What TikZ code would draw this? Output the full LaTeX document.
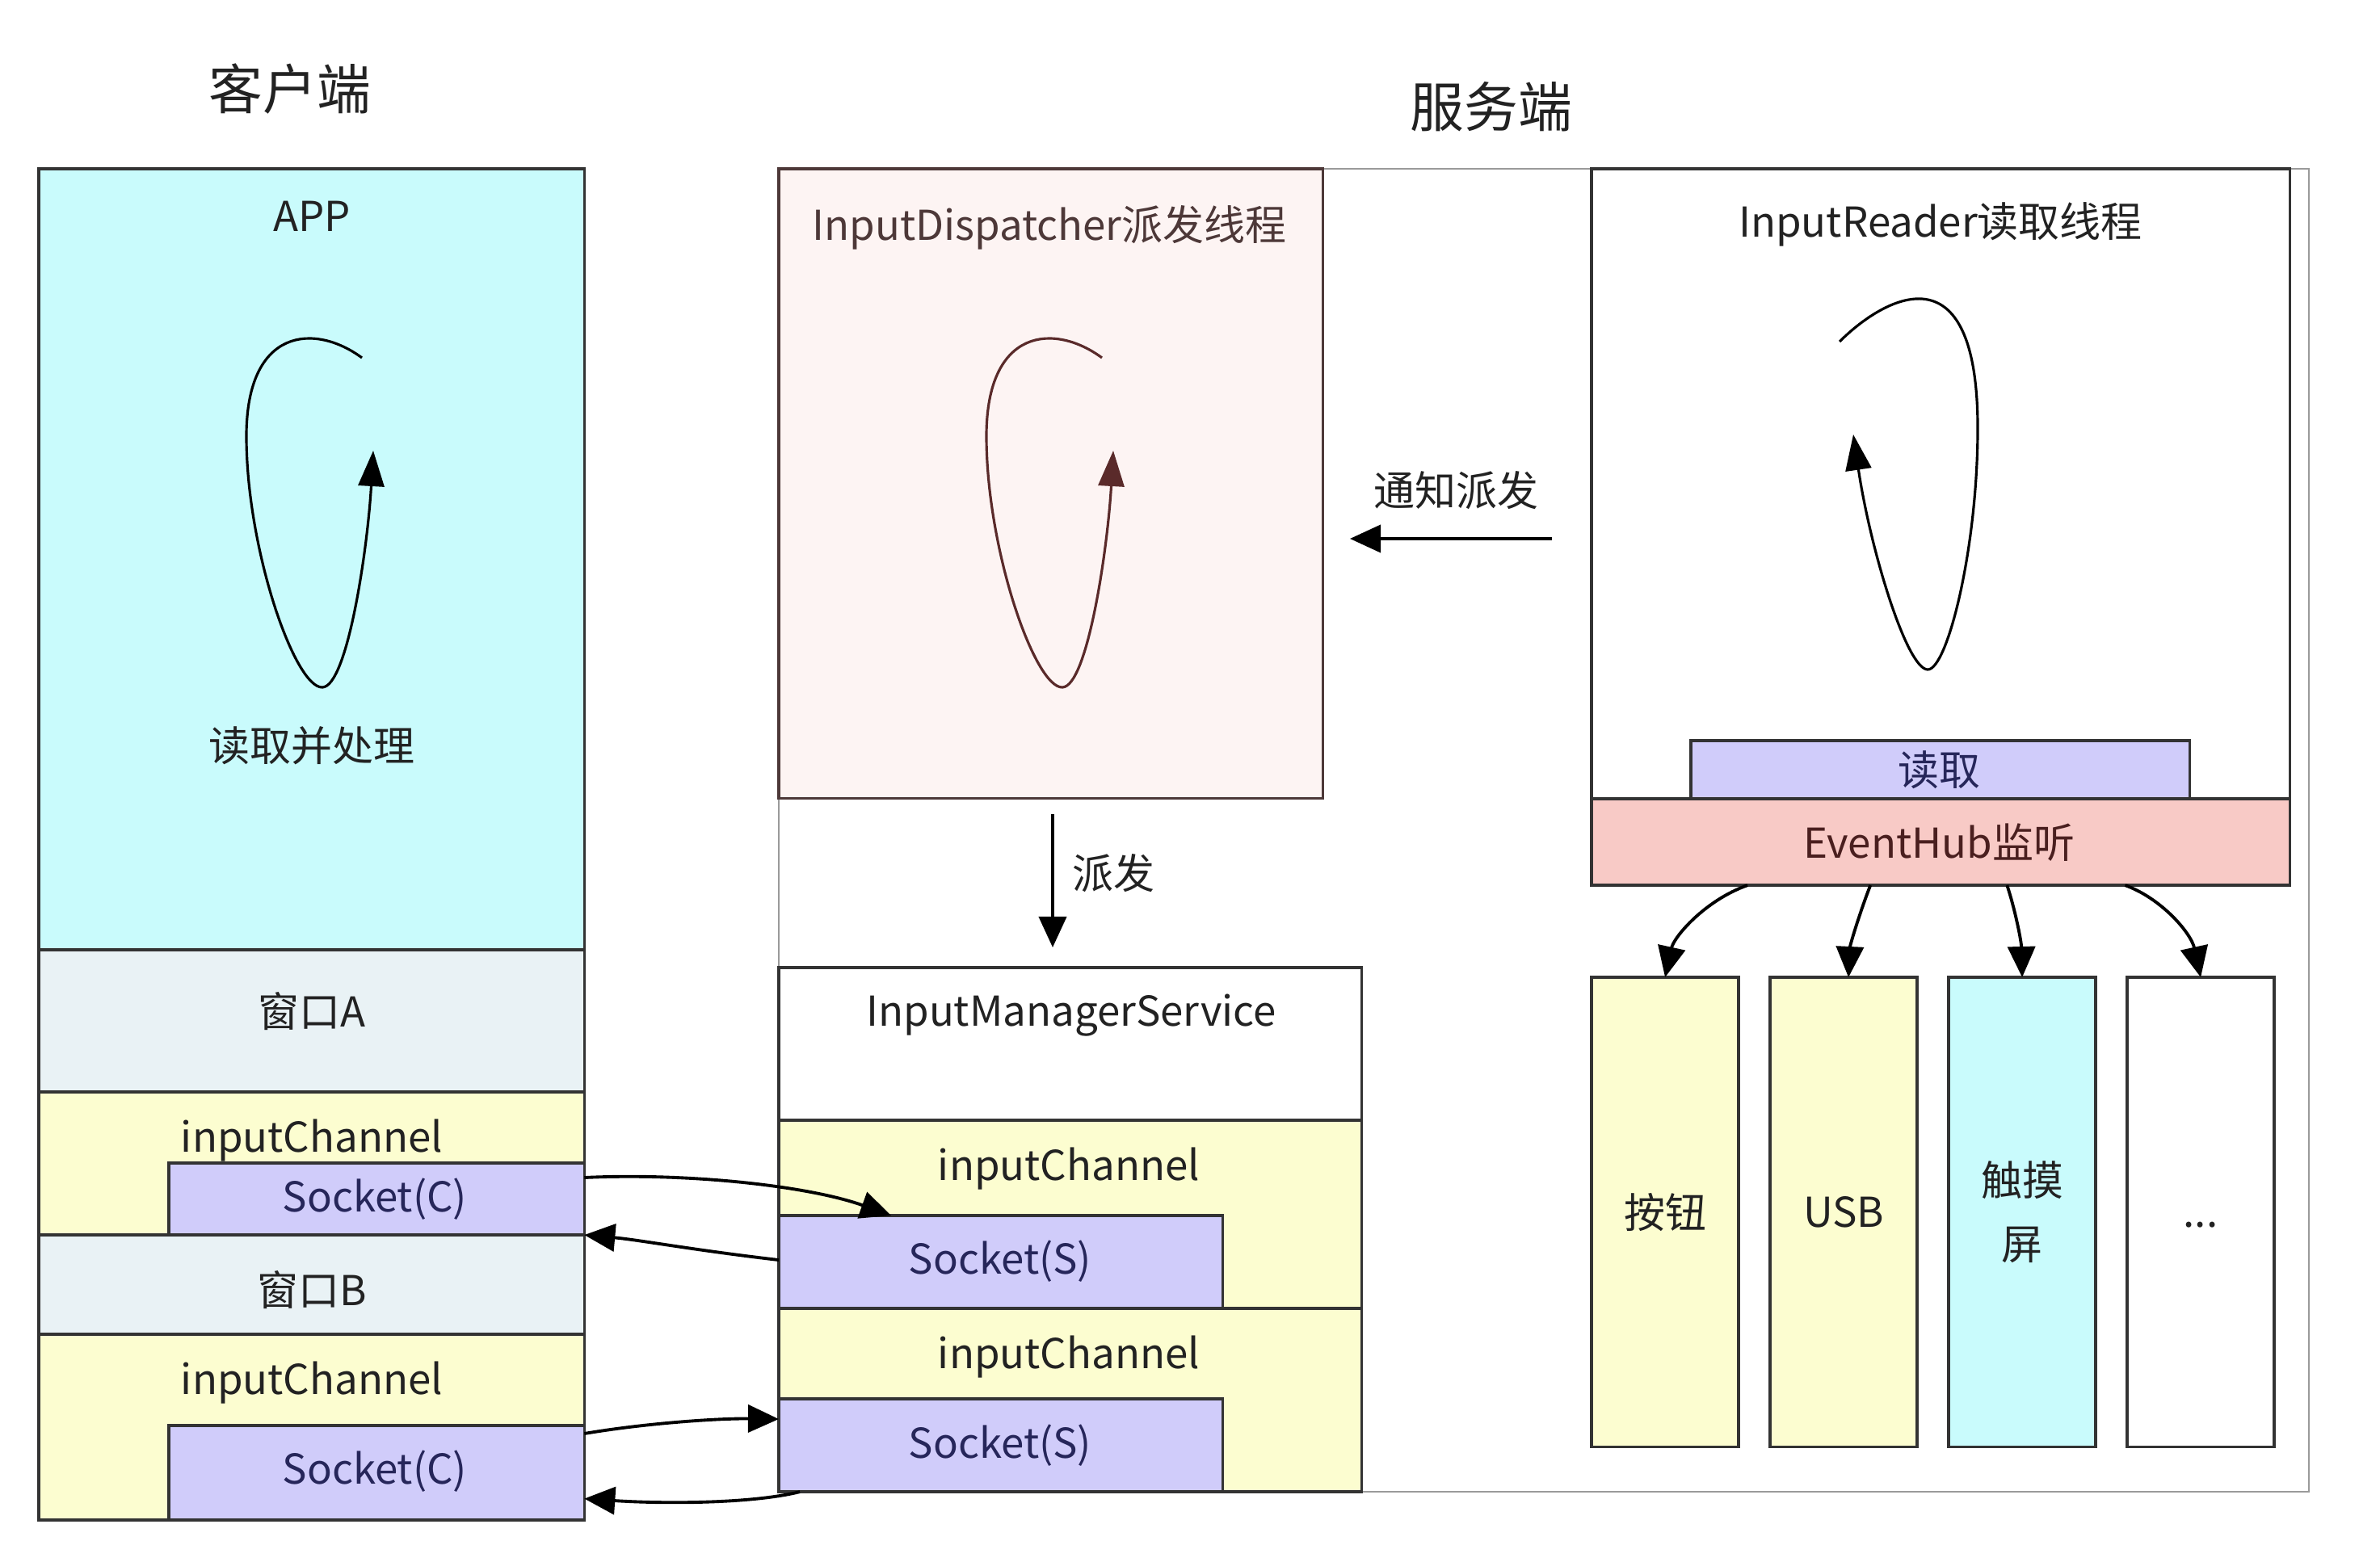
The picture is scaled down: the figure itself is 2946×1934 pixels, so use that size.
\documentclass[tikz,border=0pt]{standalone}
\usepackage{fontspec}
\setmainfont{Noto Sans CJK SC}
\usetikzlibrary{arrows.meta}
\definecolor{appcyan}{HTML}{C9FBFC}
\definecolor{wingray}{HTML}{E9F2F5}
\definecolor{chanyellow}{HTML}{FCFDD0}
\definecolor{socklav}{HTML}{D0CCFA}
\definecolor{disppink}{HTML}{FDF4F3}
\definecolor{hubred}{HTML}{F8CAC6}
\definecolor{linegray}{HTML}{333333}
\definecolor{outergray}{HTML}{9A9A9A}
\definecolor{dispborder}{HTML}{4D3838}
\definecolor{looped}{HTML}{5A2A2A}
\definecolor{textgray}{HTML}{222222}
\definecolor{socktext}{HTML}{26265A}
\definecolor{hubtext}{HTML}{4A1F1F}
\begin{document}
\begin{tikzpicture}[x=0.01cm, y=-0.01cm, font=\fontsize{14.5}{17}\selectfont, text=textgray]
    \tikzset{%
      segm/.style={draw=linegray, line width=1pt, anchor=north west, inner sep=0pt, outer sep=0pt},
      flow/.style={draw=black, line width=1.1pt, -{Triangle[length=0.38cm, width=0.34cm]}},
      loopline/.style={line width=0.9pt, -{Triangle[length=0.44cm, width=0.32cm]}},
      title/.style={font=\fontsize{19}{23}\selectfont}
      }
    \fill[white] (0,0) rectangle (2946,1934);
    \useasboundingbox (0,0) rectangle (2946,1934);

    \node [title] (XTcli) at (359,110) {客户端};
    \node [title] (XTsrv) at (1846,132) {服务端};

    % client side
    \node [segm, fill=appcyan, minimum width=6.75cm, minimum height=9.67cm] (Xapp) at (48,209) {};
    \node [segm, fill=wingray, minimum width=6.75cm, minimum height=1.76cm] (XwinA) at (48,1176) {};
    \node [segm, fill=chanyellow, minimum width=6.75cm, minimum height=1.77cm] (XchA) at (48,1352) {};
    \node [segm, fill=socklav, minimum width=5.14cm, minimum height=0.89cm] (XsoCA) at (209,1440) {};
    \node [segm, fill=wingray, minimum width=6.75cm, minimum height=1.23cm] (XwinB) at (48,1529) {};
    \node [segm, fill=chanyellow, minimum width=6.75cm, minimum height=2.30cm] (XchB) at (48,1652) {};
    \node [segm, fill=socklav, minimum width=5.14cm, minimum height=1.17cm] (XsoCB) at (209,1765) {};

    \node (XTapp) at (386,268) {APP};
    \draw [loopline] (448,443) .. controls (390,400) and (305,405) .. (305,540)
      .. controls (305,680) and (365,852) .. (399,851)
      .. controls (430,850) and (455,680) .. (462,558);
    \node (XTproc) at (386,923) {读取并处理};
    \node (XTwinA) at (386,1252) {窗口A};
    \node (XTchA) at (386,1412) {inputChannel};
    \node [text=socktext] (XTsoCA) at (464,1485) {Socket(C)};
    \node (XTwinB) at (386,1597) {窗口B};
    \node (XTchB) at (386,1712) {inputChannel};
    \node [text=socktext] (XTsoCB) at (464,1822) {Socket(C)};

    % server side
    \node [segm, draw=outergray, line width=0.6pt, minimum width=18.93cm, minimum height=16.37cm] (Xserv) at (964,209) {};
    \node [segm, draw=dispborder, fill=disppink, minimum width=6.73cm, minimum height=7.79cm] (Xdisp) at (964,209) {};
    \node [segm, fill=white, minimum width=7.21cm, minimum height=1.89cm] (Xims) at (964,1198) {};
    \node [segm, fill=chanyellow, minimum width=7.21cm, minimum height=2.33cm] (XchS1) at (964,1387) {};
    \node [segm, fill=socklav, minimum width=5.49cm, minimum height=1.15cm] (XsoS1) at (964,1505) {};
    \node [segm, fill=chanyellow, minimum width=7.21cm, minimum height=2.27cm] (XchS2) at (964,1620) {};
    \node [segm, fill=socklav, minimum width=5.49cm, minimum height=1.15cm] (XsoS2) at (964,1732) {};

    \node [text=dispborder] (XTdisp) at (1299,282) {InputDispatcher派发线程};
    \draw [loopline, draw=looped] (1364,443) .. controls (1306,400) and (1221,405) .. (1221,540)
      .. controls (1221,680) and (1281,852) .. (1315,851)
      .. controls (1346,850) and (1371,680) .. (1378,558);
    \node (XTims) at (1326,1257) {InputManagerService};
    \node (XTchS1) at (1323,1447) {inputChannel};
    \node [text=socktext] (XTsoS1) at (1238,1562) {Socket(S)};
    \node (XTchS2) at (1323,1680) {inputChannel};
    \node [text=socktext] (XTsoS2) at (1238,1790) {Socket(S)};

    \node [segm, fill=white, minimum width=8.64cm, minimum height=7.80cm] (Xread) at (1970,209) {};
    \node [segm, fill=socklav, minimum width=6.17cm, minimum height=0.72cm] (Xrd) at (2093,917) {};
    \node [segm, fill=hubred, minimum width=8.64cm, minimum height=1.07cm] (Xhub) at (1970,989) {};
    \node (XTread) at (2402,278) {InputReader读取线程};
    \draw [loopline] (2277,423) .. controls (2330,370) and (2448,300) .. (2448,530)
      .. controls (2448,680) and (2410,830) .. (2386,829)
      .. controls (2360,828) and (2315,680) .. (2294,538);
    \node [text=socktext] (XTrd) at (2400,953) {读取};
    \node [text=hubtext] (XThub) at (2400,1043) {EventHub监听};

    \node [segm, fill=chanyellow, minimum width=1.82cm, minimum height=5.81cm] (Xkey) at (1970,1210) {};
    \node [segm, fill=chanyellow, minimum width=1.82cm, minimum height=5.81cm] (Xusb) at (2191,1210) {};
    \node [segm, fill=appcyan, minimum width=1.82cm, minimum height=5.81cm] (Xtch) at (2412,1210) {};
    \node [segm, fill=white, minimum width=1.82cm, minimum height=5.81cm] (Xmore) at (2633,1210) {};
    \node (XTkey) at (Xkey) {按钮};
    \node (XTusb) at (Xusb) {USB};
    \node [align=center, font=\fontsize{14.5}{22.5}\selectfont] (XTtch) at (Xtch) {触摸\\屏};
    \node (XTmore) at (2724,1517) {...};

    % connectors
    \coordinate (Xnfs) at (1921,667);
    \coordinate (Xnfe) at (1671,667);
    \draw [flow] (Xnfs) -- (Xnfe);
    \node (XTnf) at (1802,607) {通知派发};
    \coordinate (Xdps) at (1303,1008);
    \coordinate (Xdpe) at (1303,1173);
    \draw [flow] (Xdps) -- (Xdpe);
    \node (XTdp) at (1378,1081) {派发};

    \draw [flow] ([yshift=-0.18cm]XsoCA.north east) .. controls (850,1452) and (1000,1468) .. ([xshift=1.39cm]XsoS1.north west);
    \draw [flow] ([yshift=-0.55cm]XsoS1.north west) .. controls (860,1548) and (790,1535) .. (XsoCA.south east);
    \draw [flow] ([yshift=-0.1cm]XsoCB.north east) .. controls (800,1762) and (890,1756) .. ([yshift=-0.25cm]XsoS2.north west);
    \draw [flow] ([xshift=0.26cm]XsoS2.south west) .. controls (930,1862) and (820,1862) .. ([yshift=-0.32cm]XsoCB.east);

    \draw [flow] ([xshift=1.93cm]Xhub.south west) .. controls (2110,1115) and (2072,1160) .. (Xkey.north);
    \draw [flow] ([xshift=3.45cm]Xhub.south west) .. controls (2302,1130) and (2290,1170) .. ([xshift=0.06cm]Xusb.north);
    \draw [flow] ([xshift=5.14cm]Xhub.south west) .. controls (2494,1125) and (2502,1165) .. (Xtch.north);
    \draw [flow] ([xshift=6.60cm]Xhub.south west) .. controls (2675,1112) and (2712,1155) .. (Xmore.north);
  \end{tikzpicture}
\end{document}
